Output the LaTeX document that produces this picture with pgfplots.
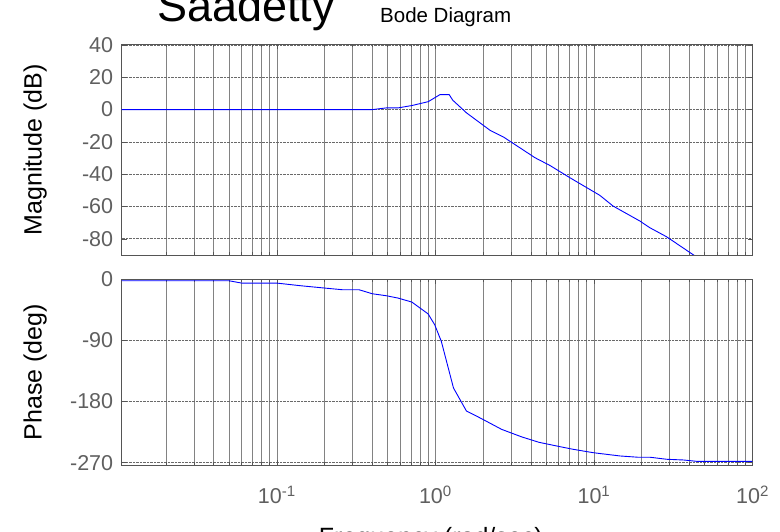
\documentclass[border=0pt]{standalone}
\usepackage{fontspec}
\setmainfont{Liberation Sans}
\usepackage{pgfplots}
\pgfplotsset{compat=1.18}
\definecolor{tickgray}{RGB}{95,95,95}
\definecolor{axgray}{RGB}{85,85,85}
\definecolor{gridgray}{RGB}{105,105,105}
\definecolor{vgridgray}{RGB}{130,130,130}
\pgfplotsset{
  every axis/.append style={
    scale only axis, width=630.8pt, xmin=0.0105, xmax=100,
    xtick={0.1,1,10,100},
    minor xtick={0.02,0.03,0.04,0.05,0.06,0.07,0.08,0.09,0.2,0.3,0.4,0.5,0.6,0.7,0.8,0.9,2,3,4,5,6,7,8,9,20,30,40,50,60,70,80,90},
    grid=both,
    major x grid style={solid, vgridgray, line width=0.7pt},
    minor x grid style={solid, vgridgray, line width=0.7pt},
    major y grid style={densely dotted, gridgray, line width=0.7pt},
    axis line style={axgray, line width=0.9pt},
    tick style={axgray, line width=0.6pt},
    tick align=inside,
    major tick length=5pt, minor tick length=3pt,
    ticklabel style={font=\fontsize{21.5}{24}\selectfont, text=tickgray},
    /pgf/number format/assume math mode=true,
    label style={font=\fontsize{25}{28}\selectfont},
    yticklabel style={xshift=-5pt},
  }
}
\begin{document}
\begin{tikzpicture}[x=1pt,y=1pt]
\begin{semilogxaxis}[at={(121.7pt,277pt)}, anchor=south west, height=210.5pt,
  ymin=-90, ymax=40.3, ytick={-80,-60,-40,-20,0,20,40}, xticklabels={},
  ylabel={Magnitude (dB)},
  ylabel style={at={(axis description cs:-0.137,0.5)}, anchor=center}]
\addplot[blue, line width=0.9pt] coordinates {
(0.0105,0) (0.4,0) (0.49,1.05) (0.58,1.05) (0.71,2.5) (0.9,4.9) (1.07,9.3) (1.22,9.3)
(1.29,5.7) (1.57,-2) (2.21,-12.8) (2.68,-16.9) (4.25,-29.8) (5.28,-34.6) (7.06,-42.2)
(10.9,-53.1) (13.2,-59.7) (19.5,-69) (22.5,-73.1) (28.7,-78.7) (43.4,-90.6) (100,-112)
};
\end{semilogxaxis}
\begin{semilogxaxis}[at={(121.7pt,67pt)}, anchor=south west, height=185.7pt,
  ymin=-273.4, ymax=0, ytick={0,-90,-180,-270},
  xticklabels={10\textsuperscript{-1},10\textsuperscript{0},10\textsuperscript{1},10\textsuperscript{2}},
  xticklabel style={anchor=base, yshift=-39pt},
  ylabel={Phase (deg)},
  ylabel style={at={(axis description cs:-0.137,0.5)}, anchor=center},
  xlabel={Frequency (rad/sec)},
  xlabel style={at={(axis description cs:0.49,-0.435)}, anchor=base, inner sep=0pt}]
\addplot[blue, line width=0.9pt] coordinates {
(0.0105,-2.2) (0.05,-2.2) (0.06,-5.6) (0.1,-5.6) (0.14,-9.4) (0.2,-12.9) (0.26,-15.4)
(0.33,-15.4) (0.4,-21.3) (0.49,-24.2) (0.58,-27.6) (0.71,-33.5) (0.9,-51) (0.99,-67)
(1.09,-91.5) (1.3,-160) (1.57,-194) (1.91,-204) (2.62,-221) (3.5,-232) (4.5,-240)
(6.1,-246.4) (7.4,-250.3) (9.9,-255.3) (14.6,-260.1) (19,-262) (22.6,-262) (28.8,-265)
(36.6,-266) (44.5,-268) (100,-268)
};
\end{semilogxaxis}
\node[anchor=base west, inner sep=0pt, font=\fontsize{45}{50}\selectfont] at (157,510) {Saadetty};
\node[anchor=base west, inner sep=0pt, font=\fontsize{20.5}{24}\selectfont] at (380,509) {Bode Diagram};
\pgfresetboundingbox
\path[use as bounding box] (0,0) rectangle (780,532);
\end{tikzpicture}
\end{document}
